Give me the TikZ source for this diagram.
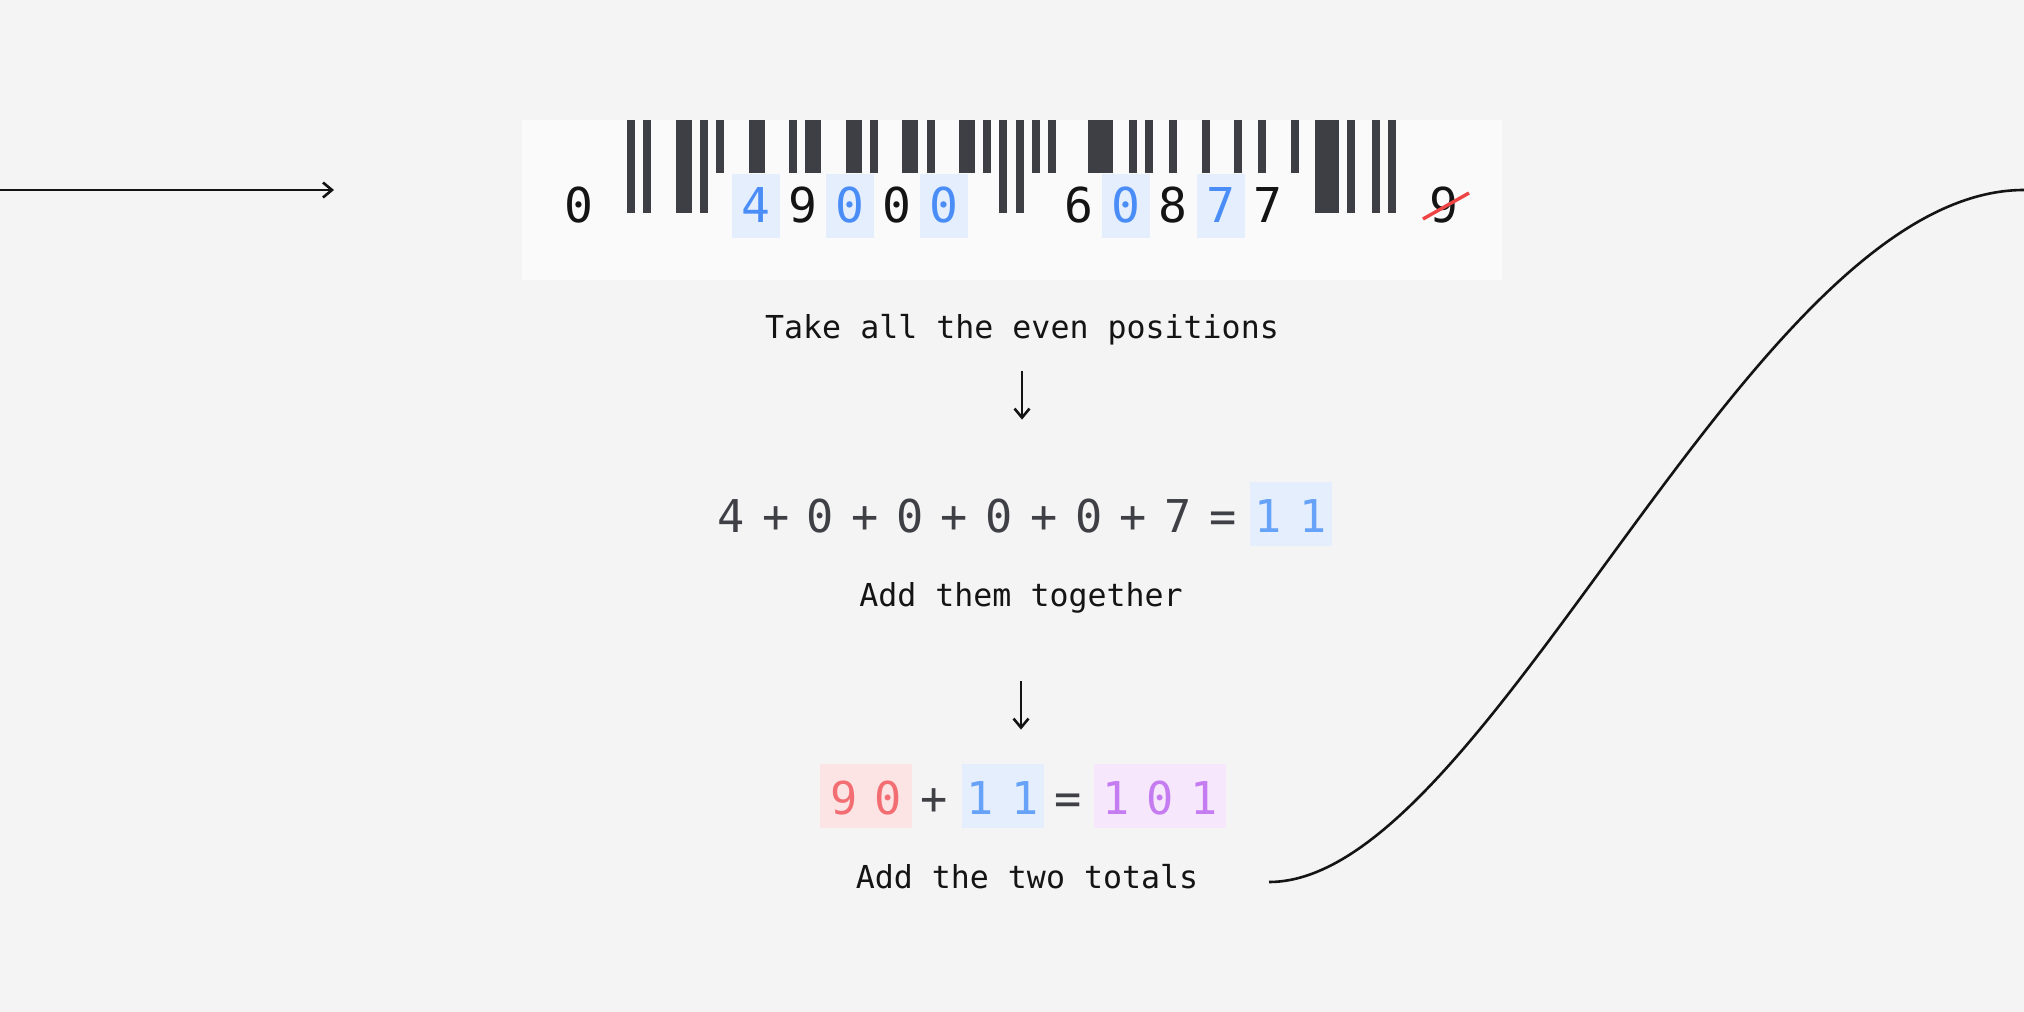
\documentclass[tikz,border=0pt]{standalone}
\usepackage{fontspec}
\usepackage{xcolor}
\usepackage{tikz}
\usetikzlibrary{
  arrows.meta,
  calc
}
\newfontfamily\monofont{DejaVu Sans Mono}

\definecolor{canvas}{HTML}{F4F4F4}
\definecolor{card}{HTML}{FAFAFA}
\definecolor{bar}{HTML}{3E3F45}
\definecolor{ink}{HTML}{141414}
\definecolor{slate}{HTML}{3F3F46}
\definecolor{markbg}{HTML}{E4EEFD}
\definecolor{marktext}{HTML}{4A8DF6}
\definecolor{sumtext}{HTML}{66A2F8}
\definecolor{redbg}{HTML}{FCE3E4}
\definecolor{redtext}{HTML}{F26E73}
\definecolor{violetbg}{HTML}{F6E7FC}
\definecolor{violettext}{HTML}{C57CF1}
\definecolor{strike}{HTML}{EF4444}

\begin{document}
\begin{tikzpicture}[
    x=0.5pt, y=-0.5pt,
    >={Straight Barb[length=4.5pt,width=7.5pt]},
    bdigit/.style={font=\monofont\fontsize{24}{24}\selectfont, text=ink, inner sep=0pt,
        minimum width=24pt, minimum height=32pt, text height=16pt, text depth=0pt},
    eqglyph/.style={font=\monofont\fontsize{22.6}{24}\selectfont, text=slate, inner sep=0pt,
        minimum height=32pt, text height=18.5pt, text depth=0pt},
    caption/.style={font=\monofont\fontsize{15.8}{18}\selectfont, text=ink, inner sep=0pt, anchor=base},
    flow/.style={line width=1.3pt, draw=ink}
]
    % canvas
    \fill[canvas] (0,0) rectangle (2024,1012);
    \useasboundingbox (0,0) rectangle (2024,1012);

    % barcode card
    \def\m{8.09}
    \def\xo{627.3}
    \fill[card] (522,120) rectangle (1502,280);
    \foreach \s/\w/\b in {0/1/213, 2/1/213, 6/2/213, 9/1/213, 11/1/173, 15/2/173, 20/1/173,
        22/2/173, 27/2/173, 30/1/173, 34/2/173, 37/1/173, 41/2/173, 44/1/173, 46/1/213,
        48/1/213, 50/1/173, 52/1/173, 57/3/173, 62/1/173, 64/1/173, 67/1/173, 71/1/173,
        75/1/173, 78/1/173, 82/1/173, 85/3/213, 89/1/213, 92/1/213, 94/1/213}
        \fill[bar] ({\xo+\m*\s},120) rectangle ({\xo+\m*(\s+\w)-0.1},\b);

    % digits under the bars
    \foreach \x/\d [count=\i] in {579/0, 803/9, 897/0, 1079/6, 1173/8, 1268/7}
        \node[bdigit] (bp\i) at (\x,206) {\d};
    \foreach \x/\d [count=\i] in {756/4, 850/0, 944/0, 1126/0, 1221/7}
        \node[bdigit, fill=markbg, text=marktext] (bm\i) at (\x,206) {\d};
    \node[bdigit] (check) at (1444,206) {9};
    \draw[strike, line width=1.7pt] ([shift={(-21,13)}]check.center) -- ([shift={(25,-13)}]check.center);

    % step 1
    \node[caption] (take) at (1022,338) {Take all the even positions};
    \foreach \g [count=\i] in {4,+,0,+,0,+,0,+,0,+,7,=}
        \node[eqglyph] (g\i) at ({731+44.7*(\i-1)},514) {\g};
    \node[eqglyph, fill=markbg, text=sumtext, minimum width=40.8pt] (sum1) at (1290.8,514) {1\hspace{9pt}1};
    \node[caption] (addthem) at (1021,606) {Add them together};
    \draw[flow, ->, shorten <=13pt, shorten >=31pt] (take.south) -- (take.south |- sum1.north);

    % step 2
    \node[eqglyph, fill=redbg, text=redtext, minimum width=46pt] (odd) at (866,796) {9\hspace{8.6pt}0};
    \node[eqglyph] (plus) at (934,796) {+};
    \node[eqglyph, fill=markbg, text=sumtext, minimum width=41pt] (even) at (1003,796) {1\hspace{9pt}1};
    \node[eqglyph] (equals) at (1068,796) {=};
    \node[eqglyph, fill=violetbg, text=violettext, minimum width=66pt] (total) at (1160,796) {1\hspace{8.4pt}0\hspace{8.4pt}1};
    \node[caption] (totals) at (1027,888) {Add the two totals};
    \draw[flow, ->, shorten <=34pt, shorten >=17pt] (addthem.south) -- (addthem.south |- even.north);

    % loop back
    \coordinate (inlet) at (0,190);
    \coordinate (intip) at (334,190);
    \coordinate (loopstart) at (1269,882);
    \coordinate (loopend) at (2024,190);
    \draw[flow, ->] (inlet) -- (intip);
    \draw[flow] (loopstart) .. controls +(220,0) and +(-275,0) .. (loopend);
\end{tikzpicture}
\end{document}
